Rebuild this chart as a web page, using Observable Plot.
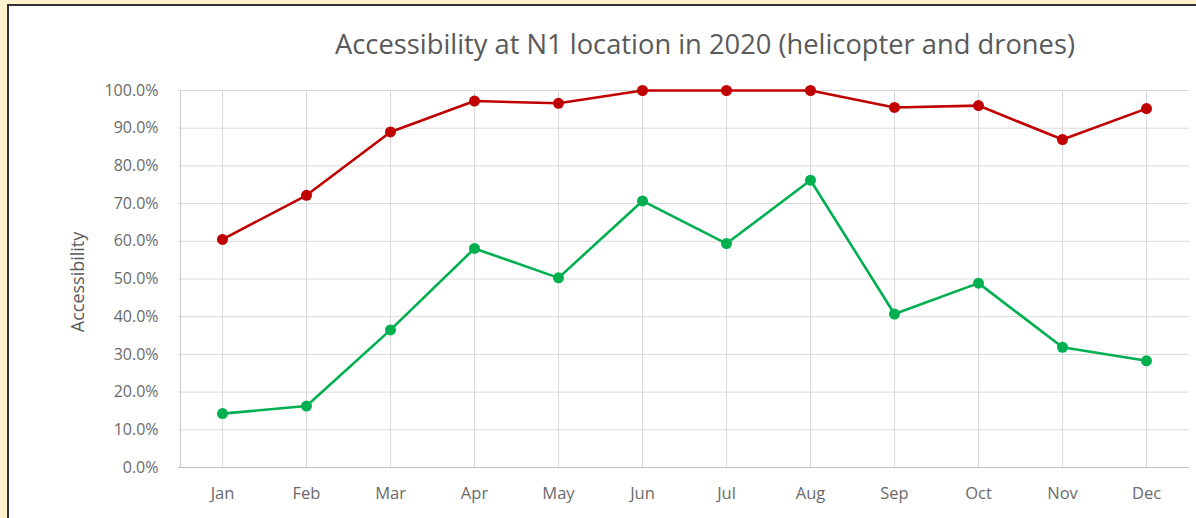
<!DOCTYPE html>
<html>
<head>
<meta charset="utf-8">
<script src="https://cdn.jsdelivr.net/npm/d3@7"></script>
<script src="https://cdn.jsdelivr.net/npm/@observablehq/plot@0.6"></script>
<style>
  html, body { margin: 0; padding: 0; width: 1196px; height: 518px; overflow: hidden; background: #FFF2CC; }
  #panel { position: absolute; left: 7px; top: 4px; width: 1200px; height: 530px; background: #fff;
           border-top: 2px solid #333; border-left: 2px solid #333; }
  #title { position: absolute; left: 0; top: 25px; width: 1196px; text-align: center;
           font-family: "Open Sans", sans-serif; font-size: 27.3px; color: #595959; padding-left: 214px; box-sizing: border-box; }
  #chart { position: absolute; left: 0; top: 70px; }
</style>
</head>
<body>
<div id="panel"></div>
<div id="title">Accessibility at N1 location in 2020 (helicopter and drones)</div>
<div id="chart"></div>
<script>
const months = ["Jan","Feb","Mar","Apr","May","Jun","Jul","Aug","Sep","Oct","Nov","Dec"];
const redSeries = [60.5, 72.2, 89.0, 97.2, 96.6, 100, 100, 100, 95.5, 96.0, 87.0, 95.2];
const greenSeries = [14.3, 16.3, 36.5, 58.1, 50.3, 70.7, 59.4, 76.2, 40.7, 48.9, 31.9, 28.3];
const yTicks = [0,10,20,30,40,50,60,70,80,90,100];

const data = [
  ...months.map((m, i) => ({month: m, value: redSeries[i], series: "red"})),
  ...months.map((m, i) => ({month: m, value: greenSeries[i], series: "green"}))
];
const colors = {red: "#C00000", green: "#00B050"};

const plot = Plot.plot({
  width: 1196,
  height: 448,
  marginLeft: 178,
  marginRight: 7,
  marginTop: 20,
  marginBottom: 51,
  style: {fontFamily: "Open Sans, sans-serif", fontSize: "16px", color: "#6a6a6a", background: "transparent"},
  x: {type: "band", domain: months, padding: 0},
  y: {domain: [0, 100]},
  marks: [
    Plot.gridY(yTicks, {stroke: "#d9d9d9", strokeOpacity: 1, strokeWidth: 1}),
    Plot.gridX(months, {stroke: "#d9d9d9", strokeOpacity: 1, strokeWidth: 1}),
    Plot.ruleX([0], {x: () => months[0], dx: -42, stroke: "#cfcfcf", strokeWidth: 1.2}),
    Plot.ruleY([0], {stroke: "#bfbfbf", strokeWidth: 1.2}),
    Plot.axisY(yTicks, {tickSize: 0, tickPadding: 20, tickFormat: d => d.toFixed(1) + "%",
      label: null, fontSize: 16}),
    Plot.axisX({tickSize: 0, tickPadding: 20, label: null, fontSize: 16.5}),
    Plot.text(["Accessibility"], {frameAnchor: "left", textAnchor: "middle", dx: -100, dy: 3, rotate: -90, fontSize: 18, fill: "#595959"}),
    Plot.line(data, {x: "month", y: "value", z: "series", stroke: d => colors[d.series], strokeWidth: 2.6}),
    Plot.dot(data, {x: "month", y: "value", fill: d => colors[d.series], r: 5.5, stroke: "none"})
  ]
});
document.getElementById("chart").appendChild(plot);
</script>
</body>
</html>
